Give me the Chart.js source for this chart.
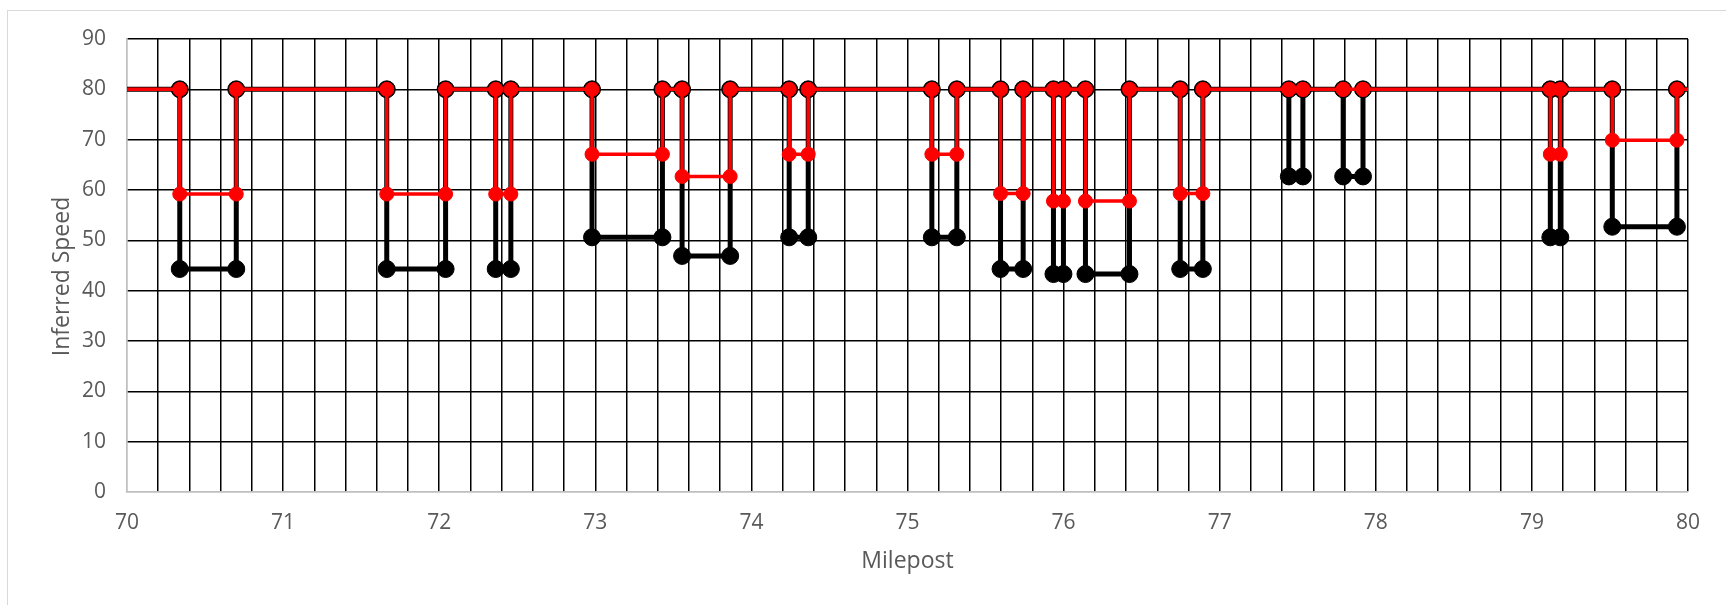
<!DOCTYPE html>
<html>
<head>
<meta charset="utf-8">
<script src="https://cdn.jsdelivr.net/npm/chart.js@4/dist/chart.umd.min.js"></script>
<style>
    html, body { margin: 0; padding: 0; background: #fff; overflow: hidden; }
    #frame { position: absolute; left: 7px; top: 10px; width: 1800px; height: 700px; border: 1px solid #d9d9d9; }
    #wrap { position: absolute; left: 0; top: 0; width: 1726px; height: 605px; }
</style>
</head>
<body>
<div id="frame"></div>
<div id="wrap"><canvas id="speedChart"></canvas></div>
<script>
// --- DATA ---
const axisStart = 70;
const axisEnd = 80;
const baseSpeed = 80;

// each slow zone: where it starts / ends (milepost) and the low speed of each series
const zoneStart = [70.338, 71.664, 72.362, 72.979, 73.556, 74.242, 75.156, 75.596, 75.935, 76.140, 76.747, 77.443, 77.791, 79.118, 79.515];
const zoneEnd   = [70.700, 72.041, 72.459, 73.430, 73.864, 74.364, 75.316, 75.741, 75.999, 76.422, 76.892, 77.533, 77.918, 79.182, 79.929];
const redLow    = [59.2, 59.2, 59.2, 67.1, 62.7, 67.1, 67.1, 59.3, 57.8, 57.8, 59.3, 80, 80, 67.1, 69.9];
const blackLow  = [44.3, 44.3, 44.3, 50.6, 46.9, 50.6, 50.6, 44.3, 43.3, 43.3, 44.3, 62.7, 62.7, 50.6, 52.7];

const yTicks = [0, 10, 20, 30, 40, 50, 60, 70, 80, 90];

// build a step trace: 80 -> low at start, low -> 80 at end
function stepTrace(lows) {
    const pts = [{ x: axisStart, y: baseSpeed }];
    zoneStart.forEach((s, i) => {
        pts.push({ x: s, y: baseSpeed });
        pts.push({ x: s, y: lows[i] });
        pts.push({ x: zoneEnd[i], y: lows[i] });
        pts.push({ x: zoneEnd[i], y: baseSpeed });
    });
    pts.push({ x: axisEnd, y: baseSpeed });
    return pts;
}

const redPts = stepTrace(redLow);
const blackPts = stepTrace(blackLow);
const hideEnds = (n, r) => (ctx) => (ctx.dataIndex === 0 || ctx.dataIndex === n - 1) ? 0 : r;

const font = "'Open Sans', 'Noto Sans', sans-serif";

// y title sits a little below the middle of the plot in the reference
const yTitlePlugin = {
    id: 'yTitle',
    afterDraw(chart) {
        const { ctx, chartArea } = chart;
        ctx.save();
        ctx.translate(chart.scales.y.left + 62, (chartArea.top + chartArea.bottom) / 2 + 11);
        ctx.rotate(-Math.PI / 2);
        ctx.font = "23px " + font;
        ctx.fillStyle = '#595959';
        ctx.textAlign = 'center';
        ctx.textBaseline = 'middle';
        ctx.fillText('Inferred Speed', 0, 0);
        ctx.restore();
    }
};

new Chart(document.getElementById('speedChart'), {
    type: 'line',
    data: {
        datasets: [
            {
                label: 'Red',
                data: redPts,
                borderColor: '#ff0000',
                backgroundColor: '#ff0000',
                borderWidth: 3.5,
                pointRadius: hideEnds(redPts.length, 7),
                pointBorderWidth: 1,
                pointBorderColor: '#ff0000',
                pointBackgroundColor: '#ff0000',
                tension: 0,
                order: 0
            },
            {
                label: 'Black',
                data: blackPts,
                borderColor: '#000000',
                backgroundColor: '#000000',
                borderWidth: 5,
                pointRadius: hideEnds(blackPts.length, 8.5),
                pointBorderWidth: 1,
                pointBorderColor: '#000000',
                pointBackgroundColor: '#000000',
                tension: 0,
                order: 1
            }
        ]
    },
    options: {
        responsive: true,
        maintainAspectRatio: false,
        animation: false,
        layout: { padding: { left: 0, right: 38, top: 39, bottom: 0 } },
        plugins: { legend: { display: false }, tooltip: { enabled: false } },
        scales: {
            x: {
                type: 'linear',
                min: axisStart,
                max: axisEnd,
                afterFit: (axis) => { axis.height = 113; },
                grid: {
                    color: (c) => (c.tick && c.tick.value === axisStart) ? '#bfbfbf' : '#000000',
                    lineWidth: 1.5,
                    drawTicks: false
                },
                border: { color: '#bfbfbf', width: 1.5 },
                ticks: {
                    stepSize: 0.2,
                    autoSkip: false,
                    maxRotation: 0,
                    padding: 18,
                    color: '#595959',
                    font: { family: font, size: 21 },
                    callback: (v) => Math.abs(v - Math.round(v)) < 1e-6 ? String(Math.round(v)) : ''
                },
                title: {
                    display: true,
                    text: 'Milepost',
                    color: '#595959',
                    font: { family: font, size: 23 },
                    padding: { top: 0, bottom: 29.5 }
                }
            },
            y: {
                min: yTicks[0],
                max: yTicks[yTicks.length - 1],
                afterFit: (axis) => { axis.width = 127; },
                grid: {
                    color: (c) => (c.tick && c.tick.value === yTicks[0]) ? '#bfbfbf' : '#000000',
                    lineWidth: 1.5,
                    drawTicks: false
                },
                border: { color: '#bfbfbf', width: 1.5 },
                afterBuildTicks: (axis) => { axis.ticks = yTicks.map(v => ({ value: v })); },
                ticks: {
                    padding: 21,
                    color: '#595959',
                    font: { family: font, size: 21 }
                },
                title: { display: false }
            }
        }
    },
    plugins: [yTitlePlugin]
});
</script>
</body>
</html>
